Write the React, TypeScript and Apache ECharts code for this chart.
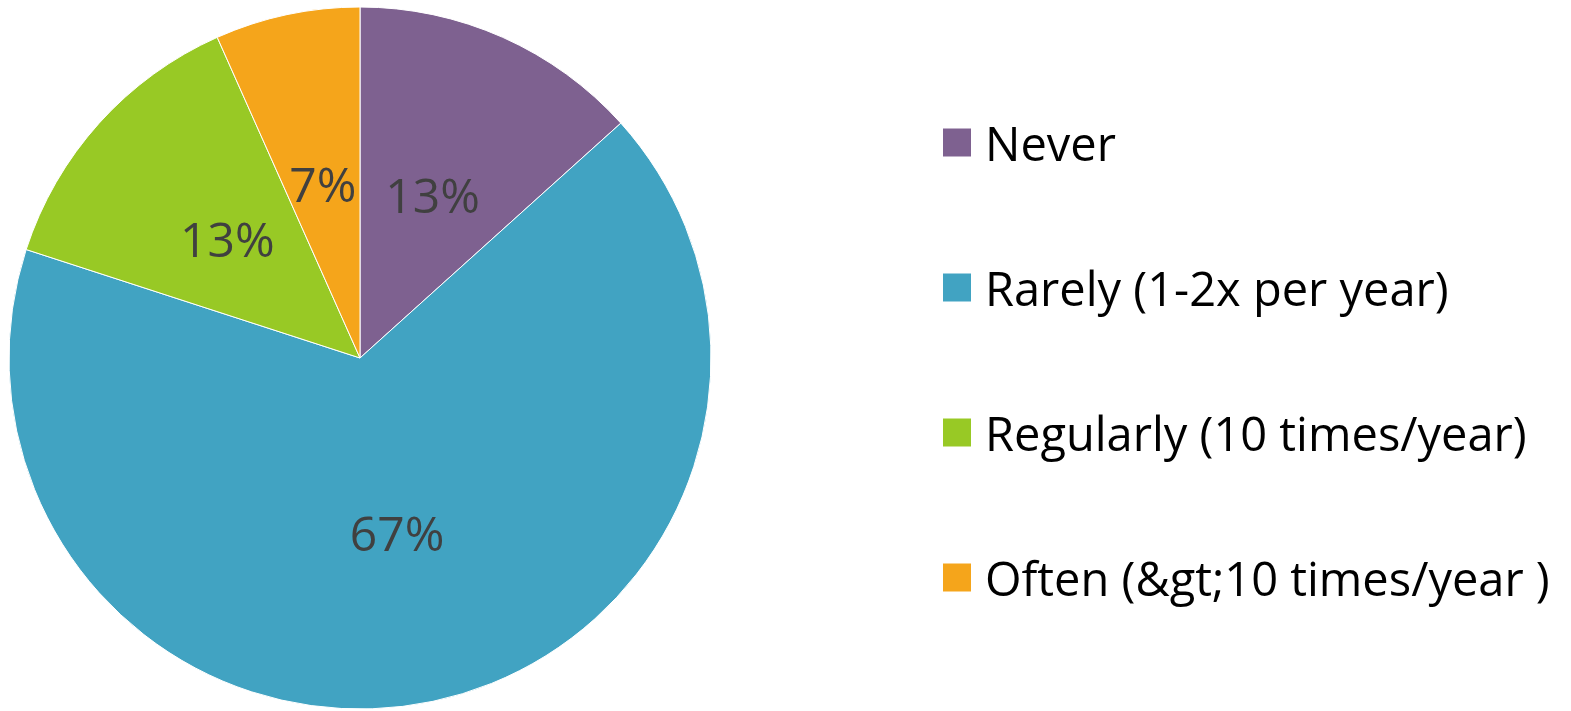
import React, { useEffect, useRef } from "react";
import * as echarts from "echarts";

const categories = [
  "Never",
  "Rarely (1-2x per year)",
  "Regularly (10 times/year)",
  "Often (&gt;10 times/year )",
];
const values = [2, 10, 2, 1];
const colors = ["#7E6190", "#41A3C2", "#98C925", "#F5A51B"];

export default function App() {
  const ref = useRef<HTMLDivElement>(null);
  useEffect(() => {
    if (!ref.current) return;
    const chart = echarts.init(ref.current, undefined, { renderer: "svg" });
    chart.setOption({
      animation: false,
      color: colors,
      legend: {
        orient: "vertical",
        left: 936,
        top: 114,
        itemWidth: 30,
        itemHeight: 30,
        itemGap: 98,
        icon: "rect",
        data: categories,
        textStyle: {
          fontFamily: "Open Sans",
          fontSize: 47,
          lineHeight: 30,
          color: "#000",
          padding: [0, 0, 0, 8],
        },
      },
      series: [
        {
          type: "pie",
          center: [360, 358],
          radius: 351,
          startAngle: 90,
          clockwise: true,
          data: categories.map((name, i) => ({ name, value: values[i] })),
          itemStyle: { borderColor: "#fff", borderWidth: 1 },
          label: {
            position: "inside",
            formatter: (p: any) => Math.round(p.percent) + "%",
            fontFamily: "Open Sans",
            fontSize: 48,
            color: "#404040",
          },
          labelLine: { show: false },
          emphasis: { disabled: true },
        },
      ],
    });
    return () => chart.dispose();
  }, []);
  return (
    <div
      ref={ref}
      style={{ position: "fixed", left: 0, top: 0, width: 1571, height: 711 }}
    />
  );
}
